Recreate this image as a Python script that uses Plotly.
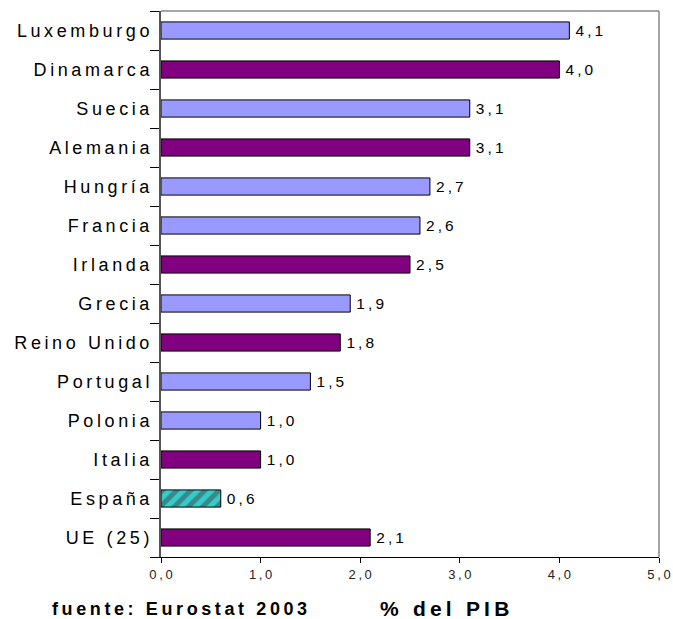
import plotly.graph_objects as go

countries = ["Luxemburgo", "Dinamarca", "Suecia", "Alemania", "Hungría", "Francia",
             "Irlanda", "Grecia", "Reino Unido", "Portugal", "Polonia", "Italia",
             "España", "UE (25)"]
values = [4.1, 4.0, 3.1, 3.1, 2.7, 2.6, 2.5, 1.9, 1.8, 1.5, 1.0, 1.0, 0.6, 2.1]
groups = ["light", "purple", "light", "purple", "light", "light", "purple", "light",
          "purple", "light", "light", "purple", "spain", "purple"]
x_ticks = [0, 1, 2, 3, 4, 5]

color_map = {"light": "#9999FF", "purple": "#800080", "spain": "#33CCCC"}
pattern_map = {"light": "", "purple": "", "spain": "/"}
FONT = "Liberation Sans, Arial, sans-serif"

def spaced(s):
    return "\u2009".join(list(s))

fig = go.Figure(go.Bar(
    y=countries, x=values, orientation="h", width=0.44,
    marker=dict(color=[color_map[g] for g in groups],
                line=dict(color="black", width=1),
                pattern=dict(shape=[pattern_map[g] for g in groups], fgcolor="black",
                             fillmode="overlay", size=10, solidity=0.5)),
    text=["\u2009" + spaced(f"{v:.1f}".replace(".", ",")) for v in values],
    textposition="outside", cliponaxis=False,
    textfont=dict(family=FONT, size=18, color="black"),
    hoverinfo="skip",
))

fig.update_layout(
    width=673, height=619, margin=dict(l=161, r=14, t=11, b=62),
    plot_bgcolor="white", paper_bgcolor="white", showlegend=False,
    xaxis=dict(range=[0, 5], tickvals=x_ticks,
               ticktext=[spaced(f"{t:.1f}".replace(".", ",")) for t in x_ticks],
               ticks="outside", ticklen=5, tickcolor="black", showgrid=False, zeroline=False,
               showline=True, linecolor="black", linewidth=1, automargin=False,
               ticklabeloverflow="allow",
               tickfont=dict(family=FONT, size=13, color="#222")),
    yaxis=dict(autorange="reversed", ticks="outside", ticklen=9, tickcolor="black",
               tickson="boundaries", showline=True, linecolor="#555", linewidth=2,
               showgrid=False, tickvals=countries, ticktext=[spaced(c) for c in countries],
               automargin=False, ticklabelstandoff=6,
               tickfont=dict(family=FONT, size=18, color="black")),
    shapes=[
        dict(type="line", xref="x domain", yref="y domain", x0=0, x1=1, y0=1, y1=1,
             line=dict(color="#888", width=1.5)),
        dict(type="line", xref="x domain", yref="y domain", x0=1, x1=1, y0=0, y1=1,
             line=dict(color="#888", width=1.5)),
    ],
    annotations=[
        dict(text="<b>" + spaced("fuente: Eurostat 2003") + "</b>", xref="paper", yref="paper",
             x=0, y=0, xshift=-111, yshift=-52, xanchor="left", yanchor="middle", showarrow=False,
             font=dict(family=FONT, size=18, color="black")),
        dict(text="<b>" + spaced("% del PIB") + "</b>", xref="paper", yref="paper",
             x=0.570, y=0, yshift=-51, xanchor="center", yanchor="middle", showarrow=False,
             font=dict(family=FONT, size=21, color="black")),
    ],
)

fig.write_html(
    "out.html",
    config={"displayModeBar": False},
    post_script="document.body.style.margin='0';document.body.style.overflow='hidden';",
)
